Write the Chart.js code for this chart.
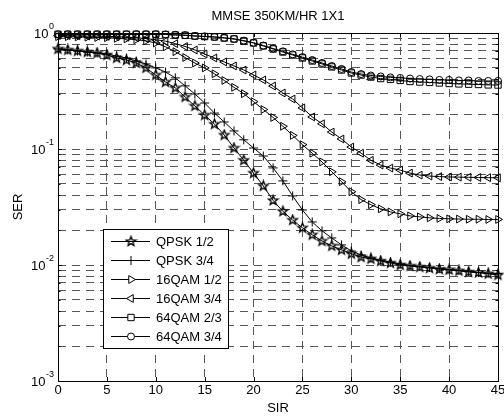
<!DOCTYPE html>
<html>
<head>
<meta charset="utf-8">
<script src="https://cdn.jsdelivr.net/npm/chart.js@4.4.1/dist/chart.umd.min.js"></script>
<style>
  html, body { margin: 0; padding: 0; background: #fff; }
</style>
</head>
<body>
<canvas id="ser-chart" width="504" height="418"></canvas>
<script>
// x axis: SIR values (one marker per dB)
const sir = [0, 1, 2, 3, 4, 5, 6, 7, 8, 9, 10, 11, 12, 13, 14, 15, 16, 17, 18, 19, 20, 21, 22,
             23, 24, 25, 26, 27, 28, 29, 30, 31, 32, 33, 34, 35, 36, 37, 38, 39, 40, 41, 42, 43, 44, 45];

const qpsk12 = [0.728, 0.714, 0.70, 0.686, 0.672, 0.646, 0.609, 0.585, 0.551, 0.50,
                0.434, 0.378, 0.336, 0.281, 0.235, 0.196, 0.164, 0.132, 0.102, 0.080,
                0.062, 0.048, 0.036, 0.029, 0.0244, 0.0209, 0.0182, 0.0161, 0.0146, 0.0135,
                0.0125, 0.0117, 0.0113, 0.0108, 0.0104, 0.0100, 0.0098, 0.0096, 0.0094, 0.0092,
                0.0091, 0.0089, 0.0087, 0.0086, 0.0084, 0.0082];
const qpsk34 = [0.728, 0.714, 0.70, 0.686, 0.672, 0.659, 0.633, 0.609, 0.574, 0.541,
                0.50, 0.461, 0.41, 0.35, 0.298, 0.249, 0.204, 0.171, 0.143, 0.12,
                0.102, 0.087, 0.0687, 0.0531, 0.0394, 0.0298, 0.0235, 0.0197, 0.0171, 0.0149,
                0.0132, 0.0122, 0.0115, 0.011, 0.0106, 0.0102, 0.0099, 0.0097, 0.0095, 0.0093,
                0.0091, 0.009, 0.0088, 0.0086, 0.0085, 0.0084];
const qam16r12 = [0.93, 0.93, 0.925, 0.92, 0.915, 0.91, 0.90, 0.89, 0.875, 0.855,
                  0.82, 0.76, 0.69, 0.615, 0.551, 0.50, 0.445, 0.39, 0.34, 0.30,
                  0.256, 0.219, 0.187, 0.157, 0.131, 0.109, 0.092, 0.0774, 0.0636, 0.0522,
                  0.0428, 0.0366, 0.0331, 0.0305, 0.0287, 0.0276, 0.0265, 0.026, 0.0255, 0.0252,
                  0.025, 0.0249, 0.0248, 0.0248, 0.0247, 0.0247];
const qam16r34 = [0.95, 0.95, 0.945, 0.94, 0.94, 0.935, 0.93, 0.92, 0.91, 0.895,
                  0.875, 0.85, 0.81, 0.765, 0.714, 0.659, 0.609, 0.563, 0.52, 0.48,
                  0.435, 0.394, 0.349, 0.304, 0.27, 0.226, 0.189, 0.165, 0.14, 0.122,
                  0.104, 0.092, 0.08, 0.0727, 0.0685, 0.0658, 0.062, 0.0596, 0.0584, 0.0578,
                  0.0574, 0.0572, 0.057, 0.0568, 0.0566, 0.0565];
const qam64r23 = [0.975, 0.975, 0.975, 0.975, 0.975, 0.975, 0.975, 0.975, 0.975, 0.975,
                  0.975, 0.97, 0.96, 0.955, 0.94, 0.932, 0.924, 0.905, 0.888, 0.853,
                  0.82, 0.773, 0.728, 0.686, 0.646, 0.609, 0.574, 0.541, 0.51, 0.48,
                  0.452, 0.434, 0.417, 0.405, 0.398, 0.39, 0.382, 0.378, 0.375, 0.371,
                  0.367, 0.364, 0.362, 0.36, 0.357, 0.356];
const qam64r34 = [0.975, 0.975, 0.975, 0.975, 0.975, 0.975, 0.975, 0.975, 0.975, 0.975,
                  0.975, 0.972, 0.965, 0.958, 0.945, 0.935, 0.925, 0.91, 0.89, 0.86,
                  0.825, 0.78, 0.735, 0.695, 0.655, 0.62, 0.585, 0.552, 0.52, 0.49,
                  0.461, 0.443, 0.43, 0.422, 0.414, 0.41, 0.405, 0.401, 0.398, 0.394,
                  0.394, 0.39, 0.39, 0.386, 0.386, 0.386];

const seriesLabels = ['QPSK 1/2', 'QPSK 3/4', '16QAM 1/2', '16QAM 3/4', '64QAM 2/3', '64QAM 3/4'];

// tick labels
const xTicks = [0, 5, 10, 15, 20, 25, 30, 35, 40, 45];
const yDecades = [0.001, 0.01, 0.1, 1];
const yExponents = ['-3', '-2', '-1', '0'];
const yGridValues = [0.001, 0.002, 0.003, 0.004, 0.005, 0.006, 0.007, 0.008, 0.009,
                     0.01, 0.02, 0.03, 0.04, 0.05, 0.06, 0.07, 0.08, 0.09,
                     0.1, 0.2, 0.3, 0.4, 0.5, 0.6, 0.7, 0.8, 0.9, 1];

const FONT = '"Liberation Sans", Arial, sans-serif';

// five-pointed star marker (matlab pentagram), drawn once on a small canvas
function makeStar(r) {
    const c = document.createElement('canvas');
    const s = Math.ceil(r * 2 + 3);
    c.width = s; c.height = s;
    const g = c.getContext('2d');
    g.strokeStyle = '#000';
    g.lineWidth = 1.3;
    g.beginPath();
    for (let k = 0; k < 10; k++) {
        const rr = k % 2 ? r * 0.42 : r;
        const ang = -Math.PI / 2 + k * Math.PI / 5;
        const px = s / 2 + rr * Math.cos(ang);
        const py = s / 2 + rr * Math.sin(ang);
        if (k === 0) g.moveTo(px, py); else g.lineTo(px, py);
    }
    g.closePath();
    g.stroke();
    return c;
}
const starImg = makeStar(5);

const markers = [
    { style: starImg, radius: 5, rotation: 0 },
    { style: 'cross', radius: 4.5, rotation: 0 },
    { style: 'triangle', radius: 4.5, rotation: 90 },
    { style: 'triangle', radius: 4.5, rotation: -90 },
    { style: 'rect', radius: 4.5, rotation: 0 },
    { style: 'circle', radius: 3.5, rotation: 0 }
];

const seriesData = [qpsk12, qpsk34, qam16r12, qam16r34, qam64r23, qam64r34];

const datasets = seriesData.map((vals, i) => ({
    label: seriesLabels[i],
    data: vals.map((v, j) => ({ x: sir[j], y: v })),
    borderColor: '#000',
    borderWidth: 1,
    tension: 0,
    fill: false,
    clip: false,
    pointStyle: markers[i].style,
    pointRadius: markers[i].radius,
    pointHoverRadius: markers[i].radius,
    pointRotation: markers[i].rotation,
    pointBorderColor: '#000',
    pointBackgroundColor: 'rgba(0,0,0,0)',
    pointBorderWidth: 1
}));

// own marker drawing for the legend box
function drawMarker(ctx, m, x, y) {
    ctx.save();
    ctx.strokeStyle = '#000';
    ctx.lineWidth = 1;
    if (typeof m.style !== 'string') {
        ctx.drawImage(m.style, x - m.style.width / 2, y - m.style.height / 2);
        ctx.restore();
        return;
    }
    const r = m.radius;
    ctx.beginPath();
    if (m.style === 'cross') {
        ctx.moveTo(x - r, y); ctx.lineTo(x + r, y);
        ctx.moveTo(x, y - r); ctx.lineTo(x, y + r);
    } else if (m.style === 'triangle') {
        let rad = m.rotation * Math.PI / 180;
        for (let k = 0; k < 3; k++) {
            const px = x + Math.sin(rad) * r, py = y - Math.cos(rad) * r;
            if (k === 0) ctx.moveTo(px, py); else ctx.lineTo(px, py);
            rad += 2 * Math.PI / 3;
        }
        ctx.closePath();
    } else if (m.style === 'rect') {
        const s = r * Math.SQRT1_2;
        ctx.rect(x - s, y - s, 2 * s, 2 * s);
    } else {
        ctx.arc(x, y, r, 0, Math.PI * 2);
    }
    ctx.fillStyle = '#fff';
    if (m.style !== 'cross') ctx.fill();
    ctx.stroke();
    ctx.restore();
}

const axesDecor = {
    id: 'axesDecor',
    afterDraw(chart) {
        const { ctx, chartArea: a, scales: { x, y } } = chart;
        ctx.save();

        // inner tick marks
        ctx.strokeStyle = '#000';
        ctx.lineWidth = 1;
        ctx.beginPath();
        xTicks.forEach(v => {
            const px = Math.round(x.getPixelForValue(v)) + 0.5;
            ctx.moveTo(px, a.bottom); ctx.lineTo(px, a.bottom - 4);
            ctx.moveTo(px, a.top); ctx.lineTo(px, a.top + 4);
        });
        yGridValues.forEach(v => {
            const py = Math.round(y.getPixelForValue(v)) + 0.5;
            const len = yDecades.includes(v) ? 4 : 2.5;
            ctx.moveTo(a.left, py); ctx.lineTo(a.left + len, py);
            ctx.moveTo(a.right, py); ctx.lineTo(a.right - len, py);
        });
        ctx.stroke();

        // axes box
        ctx.strokeRect(Math.round(a.left) + 0.5, Math.round(a.top) + 0.5,
                       Math.round(a.right - a.left), Math.round(a.bottom - a.top));

        ctx.fillStyle = '#000';
        // x tick labels
        ctx.font = '13px ' + FONT;
        ctx.textAlign = 'center';
        ctx.textBaseline = 'top';
        xTicks.forEach(v => ctx.fillText(String(v), x.getPixelForValue(v), a.bottom + 3));

        // y tick labels: 10 with superscript exponent
        ctx.textAlign = 'right';
        ctx.textBaseline = 'middle';
        yDecades.forEach((v, i) => {
            const py = y.getPixelForValue(v);
            ctx.font = '9px ' + FONT;
            const ew = ctx.measureText(yExponents[i]).width;
            ctx.fillText(yExponents[i], 54, py - 6);
            ctx.font = '13px ' + FONT;
            ctx.fillText('10', 54 - ew - 0.5, py + 1);
        });

        // titles
        ctx.font = '13px ' + FONT;
        ctx.textAlign = 'center';
        ctx.fillText('MMSE 350KM/HR 1X1', (a.left + a.right) / 2, 16);
        ctx.fillText('SIR', (a.left + a.right) / 2, 408);
        ctx.save();
        ctx.translate(18, (a.top + a.bottom) / 2);
        ctx.rotate(-Math.PI / 2);
        ctx.fillText('SER', 0, 0);
        ctx.restore();

        // legend box
        const lx = 103.5, ly = 229.5, lw = 125, lh = 119;
        ctx.fillStyle = '#fff';
        ctx.fillRect(lx, ly, lw, lh);
        ctx.strokeRect(lx, ly, lw, lh);
        chart.data.datasets.forEach((ds, i) => {
            const ry = 241.5 + i * 19;
            ctx.beginPath();
            ctx.moveTo(111, ry); ctx.lineTo(150, ry);
            ctx.stroke();
            drawMarker(ctx, markers[i], 131, ry);
            ctx.fillStyle = '#000';
            ctx.font = '13px ' + FONT;
            ctx.textAlign = 'left';
            ctx.textBaseline = 'middle';
            ctx.fillText(ds.label, 156, ry + 0.5);
        });

        ctx.restore();
    }
};

const gridOpts = {
    color: '#555',
    lineWidth: 1,
    drawTicks: false,
    borderDash: [8, 6]
};

new Chart(document.getElementById('ser-chart').getContext('2d'), {
    type: 'line',
    data: { datasets },
    options: {
        responsive: false,
        animation: false,
        devicePixelRatio: 1,
        layout: { padding: { left: 58, right: 6, top: 33, bottom: 37 } },
        plugins: {
            legend: { display: false },
            title: { display: false },
            tooltip: { enabled: false }
        },
        scales: {
            x: {
                type: 'linear',
                min: 0,
                max: 45,
                afterBuildTicks: (scale) => { scale.ticks = xTicks.map(v => ({ value: v })); },
                ticks: { display: false },
                grid: gridOpts,
                border: { display: false, dash: [8, 6] }
            },
            y: {
                type: 'logarithmic',
                min: 0.001,
                max: 1,
                afterBuildTicks: (scale) => { scale.ticks = yGridValues.map(v => ({ value: v })); },
                ticks: { display: false },
                grid: gridOpts,
                border: { display: false, dash: [8, 6] }
            }
        }
    },
    plugins: [axesDecor]
});
</script>
</body>
</html>
